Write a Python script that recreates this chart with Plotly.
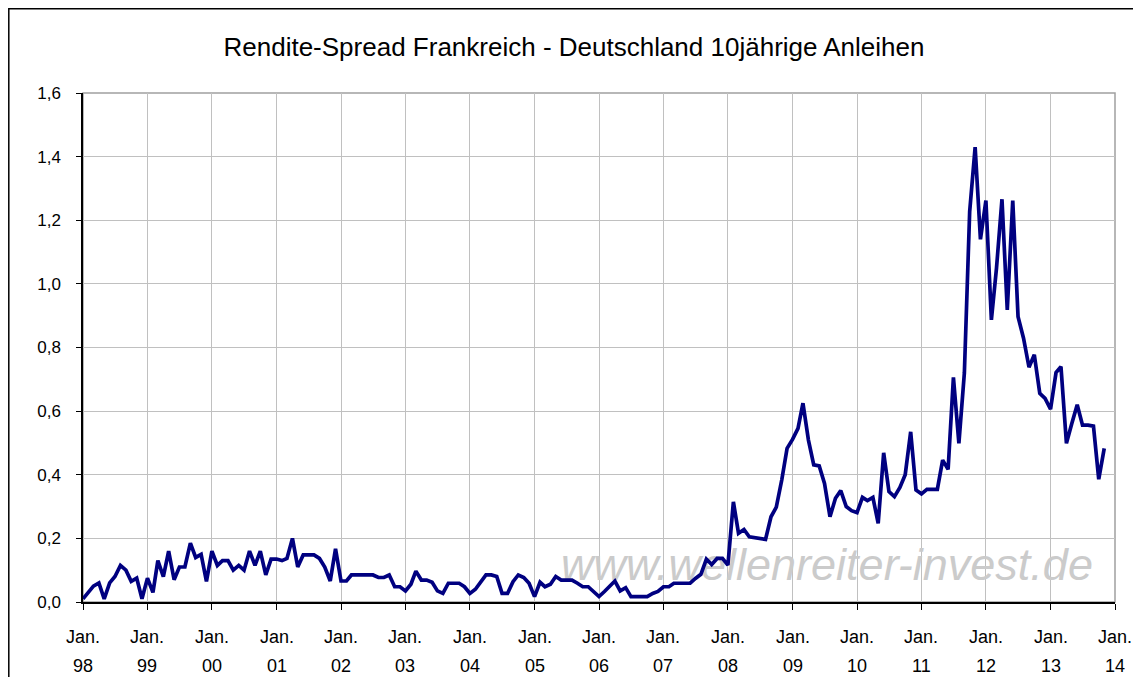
import pandas as pd
import plotly.graph_objects as go

# --- data (monthly yield spread France - Germany, 10y, in percentage points) ---
start_month = "1998-01-01"
spread_1998 = [0.01, 0.03, 0.05, 0.06, 0.01, 0.06, 0.08, 0.115, 0.10, 0.065, 0.075, 0.01]
spread_1999 = [0.075, 0.03, 0.13, 0.08, 0.16, 0.07, 0.11, 0.11, 0.185, 0.14, 0.15, 0.065]
spread_2000 = [0.16, 0.115, 0.13, 0.13, 0.10, 0.115, 0.10, 0.16, 0.115, 0.16, 0.085, 0.135]
spread_2001 = [0.135, 0.13, 0.137, 0.20, 0.11, 0.148, 0.148, 0.148, 0.137, 0.11, 0.066, 0.167]
spread_2002 = [0.066, 0.066, 0.085, 0.085, 0.085, 0.085, 0.085, 0.077, 0.077, 0.085, 0.048, 0.048]
spread_2003 = [0.035, 0.056, 0.097, 0.069, 0.069, 0.062, 0.035, 0.027, 0.059, 0.059, 0.059, 0.048]
spread_2004 = [0.027, 0.04, 0.064, 0.085, 0.085, 0.08, 0.027, 0.027, 0.064, 0.085, 0.077, 0.059]
spread_2005 = [0.017, 0.062, 0.048, 0.056, 0.08, 0.069, 0.069, 0.069, 0.059, 0.048, 0.048, 0.033]
spread_2006 = [0.017, 0.033, 0.048, 0.066, 0.035, 0.045, 0.017, 0.017, 0.017, 0.017, 0.027, 0.033]
spread_2007 = [0.048, 0.048, 0.059, 0.059, 0.059, 0.059, 0.074, 0.087, 0.135, 0.118, 0.137, 0.137]
spread_2008 = [0.116, 0.315, 0.216, 0.228, 0.205, 0.203, 0.20, 0.197, 0.268, 0.298, 0.384, 0.483]
spread_2009 = [0.511, 0.546, 0.625, 0.509, 0.431, 0.428, 0.373, 0.268, 0.326, 0.35, 0.30, 0.287]
spread_2010 = [0.281, 0.329, 0.319, 0.329, 0.247, 0.469, 0.347, 0.331, 0.36, 0.40, 0.535, 0.352]
spread_2011 = [0.34, 0.354, 0.354, 0.354, 0.446, 0.417, 0.706, 0.499, 0.72, 1.227, 1.43, 1.14]
spread_2012 = [1.262, 0.887, 1.05, 1.266, 0.918, 1.262, 0.897, 0.829, 0.738, 0.777, 0.656, 0.64]
spread_2013 = [0.606, 0.721, 0.74, 0.499, 0.56, 0.62, 0.556, 0.556, 0.553, 0.386, 0.483]

tick_years = ["98", "99", "00", "01", "02", "03", "04", "05", "06", "07",
              "08", "09", "10", "11", "12", "13", "14"]
tick_dates = [f"{1998 + i}-01-01" for i in range(len(tick_years))]
tick_month_label = "Jan."
y_ticks = [0.0, 0.2, 0.4, 0.6, 0.8, 1.0, 1.2, 1.4, 1.6]

title_text = "Rendite-Spread Frankreich - Deutschland 10jährige Anleihen"
watermark_text = "www.wellenreiter-invest.de"

values = (spread_1998 + spread_1999 + spread_2000 + spread_2001 + spread_2002 +
          spread_2003 + spread_2004 + spread_2005 + spread_2006 + spread_2007 +
          spread_2008 + spread_2009 + spread_2010 + spread_2011 + spread_2012 +
          spread_2013)
dates = pd.date_range(start_month, periods=len(values), freq="MS")

FONT = "Liberation Sans, Arial, sans-serif"

# figure geometry (the page adds an 8px body margin)
W, H = 1133, 669
ML, MR, MT, MB = 75, 26, 85, 75
PW, PH = W - ML - MR, H - MT - MB

fig = go.Figure()

# watermark (drawn first so the line lies on top of it)
fig.add_trace(go.Scatter(
    x=["2009-07-15"], y=[0.105], mode="text",
    text=[f"<i>{watermark_text}</i>"],
    textfont=dict(family=FONT, size=45, color="#CBCBCB"),
    hoverinfo="skip", showlegend=False,
))

fig.add_trace(go.Scatter(
    x=dates, y=values, mode="lines",
    line=dict(color="#000080", width=3.7),
    showlegend=False,
))

# two-line x tick labels: "Jan." and the year below it
for d, yr in zip(tick_dates, tick_years):
    fig.add_annotation(x=d, xref="x", y=-35 / PH, yref="paper", text=tick_month_label,
                       showarrow=False, xanchor="center", yanchor="middle",
                       font=dict(family=FONT, size=18, color="black"))
    fig.add_annotation(x=d, xref="x", y=-64 / PH, yref="paper", text=yr,
                       showarrow=False, xanchor="center", yanchor="middle",
                       font=dict(family=FONT, size=18, color="black"))

# plot-area border (grey) and outer chart border (black)
fig.add_shape(type="rect", xref="paper", yref="paper", x0=0, y0=0, x1=1, y1=1,
              line=dict(color="#A0A0A0", width=1.5), layer="below")
fig.add_shape(type="rect", xref="paper", yref="paper",
              x0=(0.8 - ML) / PW, x1=(W + 20 - ML) / PW,
              y0=-(MB + 20) / PH, y1=(PH + MT - 0.8) / PH,
              line=dict(color="black", width=1.5), layer="below")

fig.update_layout(
    width=W, height=H, autosize=False,
    margin=dict(l=ML, r=MR, t=MT, b=MB, autoexpand=False),
    paper_bgcolor="white", plot_bgcolor="white",
    separators=",.",
    font=dict(family=FONT, size=17, color="black"),
    title=dict(text=title_text, x=566 / W, xref="container", xanchor="center",
               y=1 - 39 / H, yref="container", yanchor="middle",
               font=dict(family=FONT, size=26, color="black")),
    showlegend=False,
)

fig.update_xaxes(
    type="date", range=[tick_dates[0], tick_dates[-1]],
    tickmode="array", tickvals=tick_dates, showticklabels=False,
    ticks="outside", ticklen=6, tickcolor="black", tickwidth=1,
    showline=True, linecolor="black", linewidth=1.5,
    showgrid=True, gridcolor="#C0C0C0", gridwidth=1,
    zeroline=False, automargin=False,
)
fig.update_yaxes(
    range=[0, 1.6], tickmode="array", tickvals=y_ticks, tickformat=".1f",
    ticks="outside", ticklen=5, tickcolor="black", tickwidth=1,
    ticklabelstandoff=12,
    showline=True, linecolor="black", linewidth=1.5,
    showgrid=True, gridcolor="#C0C0C0", gridwidth=1,
    zeroline=False, automargin=False,
    tickfont=dict(family=FONT, size=17, color="black"),
)

fig.write_html("out.html")
